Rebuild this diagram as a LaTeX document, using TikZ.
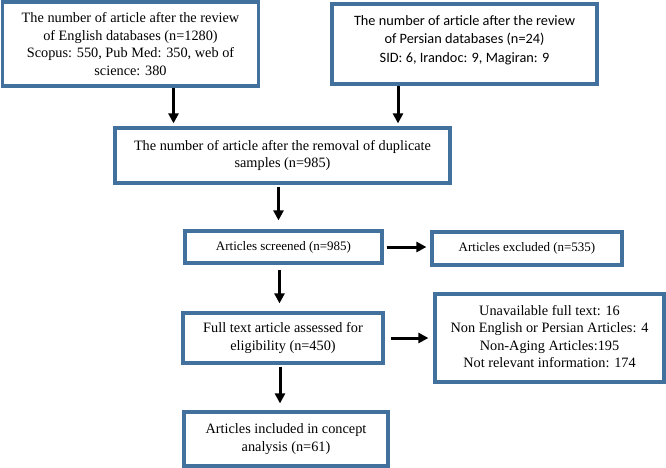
\documentclass[tikz,border=0pt]{standalone}
\usepackage{fontspec}
\setmainfont{Liberation Serif}
\newfontfamily\calibri{Carlito}
\usetikzlibrary{arrows.meta}
\definecolor{boxblue}{RGB}{65,113,156}

\begin{document}
\begin{tikzpicture}[box/.style = {draw=boxblue, line width=3.2pt, fill=white, align=center, inner sep=0pt, font=\fontsize{14.3}{17.5}\selectfont},
 arr/.style = {line width=3pt, -{Triangle[length=10pt, width=10pt]}}]

\useasboundingbox (0,0) rectangle (666pt,-468pt);

\node[box, xshift=130.5pt, yshift=-44pt, minimum width=256pt, minimum height=84pt] (eng) {The number of article after the review\\ of English databases (n=1280)\\ Scopus: 550, Pub Med: 350, web of\\ science: 380};
\node[box, xshift=464.5pt, yshift=-44pt, minimum width=265pt, minimum height=80pt, font=\calibri\fontsize{14.3}{18.5}\selectfont] (per) {The number of article after the review\\ of Persian databases (n=24)\\ SID: 6, Irandoc: 9, Magiran: 9\\[-8.5pt]};
\node[box, xshift=282.5pt, yshift=-155.5pt, minimum width=335pt, minimum height=55pt] (dup) {The number of article after the removal of duplicate\\ samples (n=985)};
\node[box, xshift=283.5pt, yshift=-247pt, minimum width=197pt, minimum height=32pt, font=\fontsize{13}{16}\selectfont] (scr) {Articles screened (n=985)};
\node[box, xshift=527pt, yshift=-248.5pt, minimum width=190pt, minimum height=33pt, font=\fontsize{13}{16}\selectfont] (excl) {Articles excluded (n=535)};
\node[box, xshift=283pt, yshift=-338pt, minimum width=200pt, minimum height=50pt] (full) {Full text article assessed for\\ eligibility (n=450)};
\node[box, xshift=549.5pt, yshift=-338pt, minimum width=229pt, minimum height=88pt] (reas) {Unavailable full text: 16\\ Non English or Persian Articles: 4\\ Non-Aging Articles:195\\ Not relevant information: 174\\[-14pt]};
\node[box, xshift=286pt, yshift=-439pt, minimum width=204pt, minimum height=54pt] (incl) {Articles included in concept\\ analysis (n=61)};

\draw[arr, shorten >=3pt] ([xshift=43pt]eng.south) -- ([xshift=43pt]eng.south |- dup.north);
\draw[arr, shorten >=3pt] ([xshift=-66.5pt]per.south) -- ([xshift=-66.5pt]per.south |- dup.north);
\draw[arr, shorten <=2pt, shorten >=9pt] ([xshift=-5pt]scr.north |- dup.south) -- ([xshift=-5pt]scr.north);
\draw[arr, shorten <=3pt, shorten >=4pt] (scr.east) -- (excl.west |- scr.east);
\draw[arr, shorten <=5pt, shorten >=8pt] ([xshift=-4pt]scr.south) -- ([xshift=-4pt]scr.south |- full.north);
\draw[arr, shorten <=6pt, shorten >=5pt] (full.east) -- (reas.west |- full.east);
\draw[arr, shorten <=2pt, shorten >=7pt] ([xshift=-3pt]full.south) -- ([xshift=-3pt]full.south |- incl.north);

\end{tikzpicture}
\end{document}
